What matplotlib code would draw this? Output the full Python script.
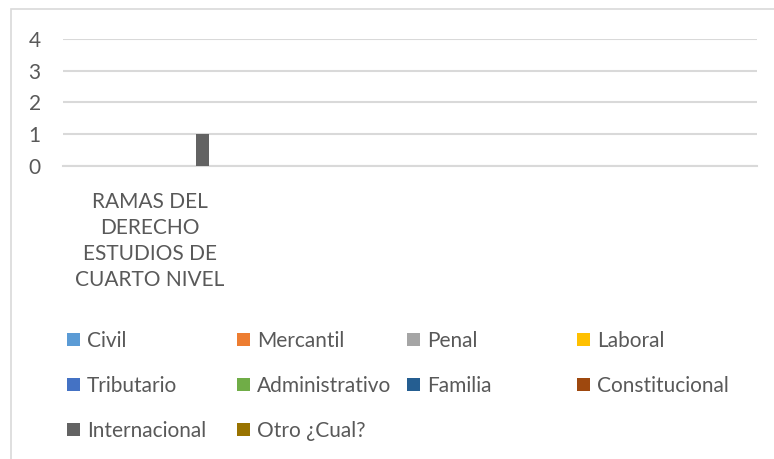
import matplotlib
matplotlib.use("Agg")
import matplotlib.pyplot as plt
from matplotlib.patches import Rectangle

plt.rcParams['font.family'] = ['Lato', 'DejaVu Sans']

categories = ["RAMAS DEL\nDERECHO\nESTUDIOS DE\nCUARTO NIVEL", "", "", ""]
series_names = ["Civil", "Mercantil", "Penal", "Laboral", "Tributario",
                "Administrativo", "Familia", "Constitucional", "Internacional",
                "Otro ¿Cual?"]
series_values = [
    [0, 0, 0, 0],  # Civil
    [0, 0, 0, 0],  # Mercantil
    [0, 0, 0, 0],  # Penal
    [0, 0, 0, 0],  # Laboral
    [0, 0, 0, 0],  # Tributario
    [0, 0, 0, 0],  # Administrativo
    [0, 0, 0, 0],  # Familia
    [0, 0, 0, 0],  # Constitucional
    [1, 0, 0, 0],  # Internacional
    [0, 0, 0, 0],  # Otro
]
colors = ["#5B9BD5", "#ED7D31", "#A5A5A5", "#FFC000", "#4472C4",
          "#70AD47", "#255E91", "#9E480E", "#636363", "#997300"]
yticks = [0, 1, 2, 3, 4]

W, H = 774, 459
TXT = "#595959"
GRID = "#D9D9D9"
FS = 15

fig = plt.figure(figsize=(W / 100, H / 100), dpi=100)
fig.patch.set_facecolor("white")

# outer chart border
fig.patches.append(Rectangle((11 / W, -0.05), 1.2, 1 - 9 / H + 0.05,
                             transform=fig.transFigure, fill=False,
                             edgecolor=GRID, linewidth=1.2))

ax = fig.add_axes([63 / W, (H - 166) / H, (757 - 63) / W, (166 - 39) / H])
ax.set_facecolor("none")

n = len(series_names)
step = 0.087
width = 0.075
for i, (name, vals, c) in enumerate(zip(series_names, series_values, colors)):
    xs = [k + (i - (n - 1) / 2) * step for k in range(len(categories))]
    ax.bar(xs, vals, width=width, color=c, linewidth=0, label=name, zorder=3)

ax.set_xlim(-0.5, len(categories) - 0.5)
ax.set_ylim(0, 4)
ax.set_yticks(yticks)
ax.set_yticklabels([str(t) for t in yticks])
ax.grid(axis="y", color=GRID, linewidth=1.5, zorder=0)
ax.set_axisbelow(True)
for s in ["left", "right", "top"]:
    ax.spines[s].set_visible(False)
ax.spines["bottom"].set_color(GRID)
ax.spines["bottom"].set_linewidth(1.5)
ax.tick_params(axis="y", length=0, pad=16, labelsize=FS, labelcolor=TXT)
ax.set_xticks(range(len(categories)))
ax.set_xticklabels(categories, fontsize=FS, color=TXT, linespacing=1.36)
ax.tick_params(axis="x", length=0, pad=19)

# legend (Excel-like grid)
for i, (name, c) in enumerate(zip(series_names, colors)):
    col, row = i % 4, i // 4
    x0 = 67 + col * 170
    yc = 339 + row * 45
    fig.patches.append(Rectangle((x0 / W, (H - yc - 6.5) / H), 13 / W, 13 / H,
                                 transform=fig.transFigure, facecolor=c,
                                 edgecolor="none"))
    fig.text((x0 + 20) / W, (H - yc) / H, name, fontsize=FS, color=TXT,
             va="center_baseline", ha="left")

fig.savefig("out.png", dpi=100)
